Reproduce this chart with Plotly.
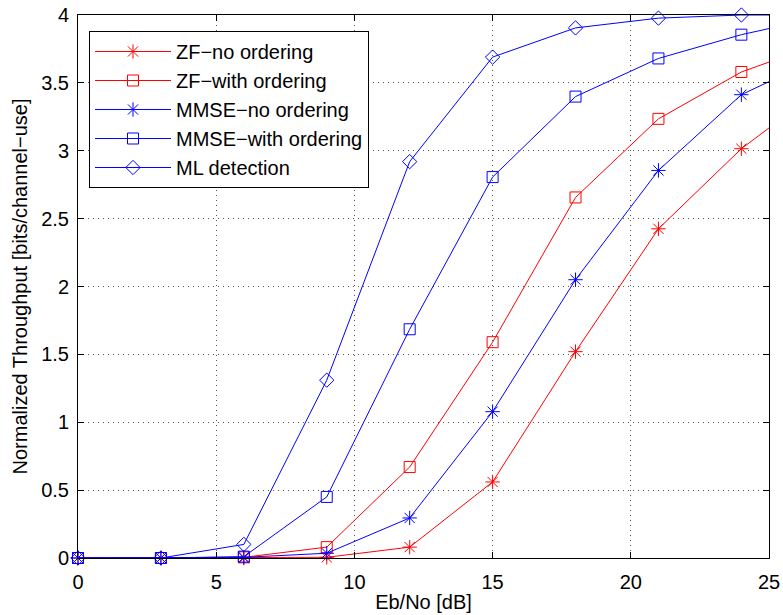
import plotly.graph_objects as go

# ---- data ----
ebno = [0, 3, 6, 9, 12, 15, 18, 21, 24]
x_edge = [24, 25]  # where the curves leave the axes box

zf_no = [0, 0, 0.0, 0.005, 0.08, 0.56, 1.52, 2.425, 3.015]
zf_ord = [0, 0, 0.005, 0.08, 0.67, 1.59, 2.656, 3.235, 3.58]
mmse_no = [0, 0, 0.005, 0.035, 0.295, 1.078, 2.05, 2.855, 3.413]
mmse_ord = [0, 0, 0.01, 0.45, 1.685, 2.806, 3.399, 3.68, 3.855]
ml = [0, 0, 0.10, 1.31, 2.92, 3.69, 3.905, 3.977, 4.0]

# value where each curve meets the right edge (x = 25)
edge_vals = {
    "zf_no": 3.168,
    "zf_ord": 3.653,
    "mmse_no": 3.509,
    "mmse_ord": 3.90,
    "ml": 4.0,
}

series = [
    ("ZF\u2212no ordering", zf_no, "zf_no", "#ff0000", "asterisk-open", 12),
    ("ZF\u2212with ordering", zf_ord, "zf_ord", "#ff0000", "square-open", 11),
    ("MMSE\u2212no ordering", mmse_no, "mmse_no", "#0000ff", "asterisk-open", 12),
    ("MMSE\u2212with ordering", mmse_ord, "mmse_ord", "#0000ff", "square-open", 11),
    ("ML detection", ml, "ml", "#0000ff", "diamond-open", 11),
]

FONT = "Liberation Sans, Arial, Helvetica, sans-serif"

fig = go.Figure()
for name, ys, key, color, sym, msize in series:
    fig.add_trace(go.Scatter(
        x=ebno, y=ys, name=name, mode="lines+markers",
        line=dict(color=color, width=1),
        marker=dict(symbol=sym, size=msize, color=color, line=dict(color=color, width=1)),
        cliponaxis=False,
    ))
    fig.add_trace(go.Scatter(
        x=x_edge, y=[ys[-1], edge_vals[key]], mode="lines",
        line=dict(color=color, width=1), showlegend=False, hoverinfo="skip",
    ))

W, H = 783, 615
L, R, T, B = 78, 14, 15, 57
pw, ph = W - L - R, H - T - B

axis_common = dict(
    showline=True, linecolor="black", linewidth=1, mirror="ticks",
    ticks="inside", ticklen=6, tickcolor="black", tickwidth=1,
    showgrid=True, gridcolor="#555555", gridwidth=1, griddash="1px,4px",
    zeroline=False,
    tickfont=dict(family=FONT, size=20, color="black"),
)

fig.update_layout(
    width=W, height=H,
    margin=dict(l=L, r=R, t=T, b=B, autoexpand=False),
    paper_bgcolor="white", plot_bgcolor="white",
    font=dict(family=FONT, size=20, color="black"),
    showlegend=True,
    legend=dict(
        x=(89 - L) / pw, y=(H - B - 31) / ph, xanchor="left", yanchor="top",
        bgcolor="white", bordercolor="black", borderwidth=1,
        font=dict(family=FONT, size=20, color="black"),
        itemwidth=76, tracegroupgap=0,
    ),
    xaxis=dict(
        range=[0, 25], dtick=5, tick0=0,
        title=dict(text="Eb/No [dB]", font=dict(family=FONT, size=20), standoff=2),
        ticklabelstandoff=6,
        **axis_common,
    ),
    yaxis=dict(
        range=[0, 4], dtick=0.5, tick0=0,
        title=dict(text="Normalized Throughput [bits/channel\u2212use]", font=dict(family=FONT, size=20), standoff=8),
        ticklabelstandoff=4,
        **axis_common,
    ),
)

fig.write_html("out.html")
